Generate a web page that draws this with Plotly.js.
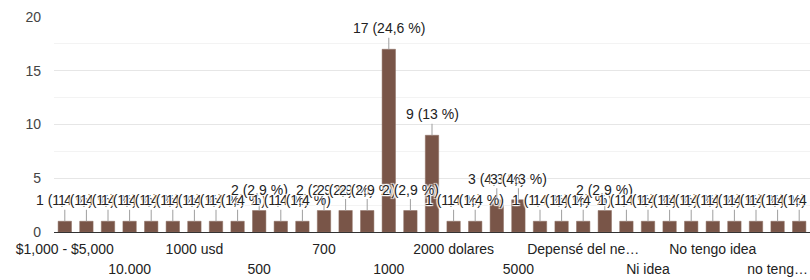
<!DOCTYPE html>
<html>
<head>
<meta charset="utf-8">
<script src="https://cdn.plot.ly/plotly-3.0.1.min.js"></script>
<style>
  html, body { margin: 0; padding: 0; background: #fff; }
  #chart { width: 810px; height: 280px; }
</style>
</head>
<body>
<div id="chart"></div>
<script>
// Categories (answers) in the order shown; only every third one is labelled in the chart.
const categories = [
  "$1,000 - $5,000", "$2,000", "$10,000", "10.000", "1 500", "20000",
  "1000 usd", "800 dolares", "Mil", "500", "300", "600",
  "700", "800", "1500", "1000", "3000", "2000",
  "2000 dolares", "2.000", "4000", "5000", "10000", "1.500",
  "Depensé del negocio", "No sé", "100", "Ni idea", "250", "400",
  "No tengo idea", "1200", "Nada", "no tengo idea", "900"
];
const counts = [
  1, 1, 1, 1, 1, 1,
  1, 1, 1, 2, 1, 1,
  2, 2, 2, 17, 2, 9,
  1, 1, 3, 3, 1, 1,
  1, 2, 1, 1, 1, 1,
  1, 1, 1, 1, 1
];
// Visible tick labels (two alternating rows)
const row1Cats = ["$1,000 - $5,000", "1000 usd", "700", "2000 dolares", "Depensé del negocio", "No tengo idea"];
const row1Text = ["$1,000 - $5,000", "1000 usd", "700", "2000 dolares", "Depensé del ne…", "No tengo idea"];
const row2Cats = ["10.000", "500", "1000", "5000", "Ni idea", "no tengo idea"];
const row2Text = ["10.000", "500", "1000", "5000", "Ni idea", "no teng…"];

const total = counts.reduce((a, b) => a + b, 0);
function pctLabel(v) {
  const p = parseFloat((v / total * 100).toFixed(1));
  return v + " (" + String(p).replace(".", ",") + " %)";
}

const BAR = "#795548";
const FONT = "Liberation Sans, Arial, sans-serif";

const traces = [
  {
    type: "bar", x: categories, y: counts, xaxis: "x", yaxis: "y",
    marker: { color: BAR, line: { color: "#8d6e63", width: 0.5 } },
    hoverinfo: "skip", showlegend: false
  },
  {
    type: "bar", x: categories, y: counts, xaxis: "x2", yaxis: "y",
    marker: { color: "rgba(0,0,0,0)" }, hoverinfo: "skip", showlegend: false
  }
];

const halo = "1px 1px 1px #fff, -1px -1px 1px #fff, 1px -1px 1px #fff, -1px 1px 1px #fff, 0 0 2px #fff";
// x given as the category index so numeric-looking category names are not read as numbers
const annotations = categories.map((c, i) => ({
  x: categories.indexOf(c), y: counts[i], xref: "x", yref: "y",
  text: pctLabel(counts[i]),
  showarrow: true, arrowhead: 0, arrowwidth: 1, arrowcolor: "#9e9e9e",
  ax: 0, ay: -21, standoff: 0,
  font: { family: FONT, size: 14, color: "#222", shadow: halo }
}));

const layout = {
  width: 810, height: 280,
  margin: { l: 54, r: 0, t: 17, b: 48, pad: 0 },
  paper_bgcolor: "#fff", plot_bgcolor: "#fff",
  bargap: 0.38,
  showlegend: false,
  xaxis: {
    type: "category", categoryorder: "array", categoryarray: categories,
    range: [-0.5, categories.length - 0.5],
    tickmode: "array", tickvals: row1Cats, ticktext: row1Text,
    showgrid: false, zeroline: false, showline: true, linecolor: "#333", linewidth: 1,
    ticks: "", ticklabelstandoff: 4,
    tickfont: { family: FONT, size: 14, color: "#222" }
  },
  xaxis2: {
    type: "category", categoryorder: "array", categoryarray: categories,
    range: [-0.5, categories.length - 0.5],
    overlaying: "x", anchor: "y", side: "bottom",
    tickmode: "array", tickvals: row2Cats, ticktext: row2Text,
    showgrid: false, zeroline: false, showline: false,
    ticks: "", ticklabelstandoff: 27,
    tickfont: { family: FONT, size: 14, color: "#222" }
  },
  yaxis: {
    range: [0, 20], tickmode: "linear", tick0: 0, dtick: 5,
    showgrid: true, gridcolor: "#e6e6e6", gridwidth: 1,
    minor: { dtick: 2.5, showgrid: true, gridcolor: "#f3f3f3", gridwidth: 1 },
    zeroline: false, showline: false, ticks: "", ticklabelstandoff: 12,
    tickfont: { family: FONT, size: 14, color: "#444" }
  },
  annotations: annotations
};

Plotly.newPlot("chart", traces, layout, { staticPlot: true, displayModeBar: false });
</script>
</body>
</html>
